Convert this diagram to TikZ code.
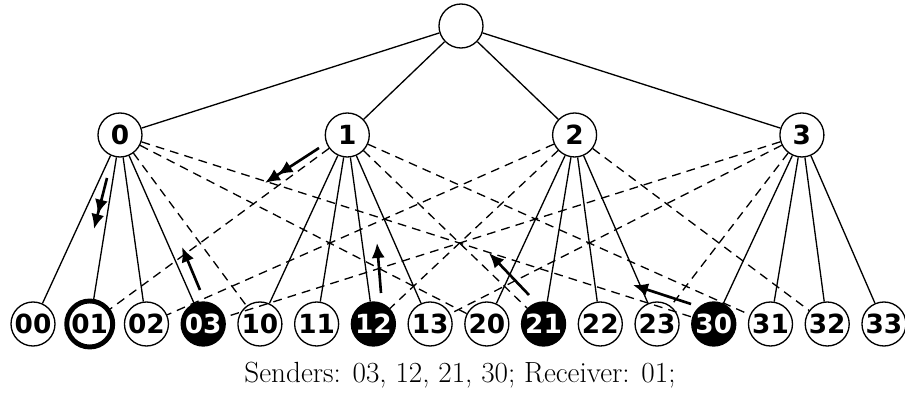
\documentclass[tikz,border=0pt]{standalone}
\usepackage{fontspec}
\newfontfamily\nodefont{DejaVu Sans}
\usetikzlibrary{arrows.meta}
\begin{document}
\begin{tikzpicture}[x=.2mm,y=-.2mm]
		  \tikzstyle{every node}=[font=\fontsize{15}{18}\nodefont\bfseries]
		  \tikzstyle{vertex}=[circle,draw,line width=.75pt,minimum size=.88cm,inner sep=0pt]
		  \tikzstyle{sender}=[vertex,fill=black,text=white]
		  \tikzstyle{receiver}=[vertex,line width=2.8pt,minimum size=.92cm]
		  \tikzstyle{link}=[line width=.75pt]
		  \tikzstyle{cross}=[link,dash pattern=on 5pt off 3.5pt]
		  \tikzstyle{route}=[line width=1.5pt,-{Latex[length=8.5pt,width=7.5pt]}]
		  \tikzstyle{route2}=[line width=1.5pt,-{Latex[length=8.5pt,width=7.5pt]Latex[length=8.5pt,width=7.5pt]}]
		  \useasboundingbox (0,0) rectangle (905,398);
		  % switches: root, one per group, sixteen end nodes
		  \node[vertex](r) at (461,26){};
		  \foreach \i in {0,...,3}
		    \node[vertex](n\i) at ({120+227.3*\i},135){\i};
		  \foreach \lbl/\s [count=\k from 0] in {00/vertex,01/receiver,02/vertex,03/sender,
		      10/vertex,11/vertex,12/sender,13/vertex,20/vertex,21/sender,22/vertex,23/vertex,
		      30/sender,31/vertex,32/vertex,33/vertex}
		    \node[\s](l\lbl) at ({33+56.73*\k},324){\lbl};
		  % tree links
		  \foreach \i in {0,...,3}{
		    \draw[link](r)--(n\i);
		    \foreach \j in {0,...,3}
		      \draw[link](n\i)--(l\i\j);
		  }
		  % cross links: switch i to end node ji
		  \foreach \i in {0,...,3}
		    \foreach \j in {0,...,3}{
		      \ifnum\i=\j\else \draw[cross](n\i)--(l\j\i); \fi
		    }
		  % message paths towards 01
		  \coordinate(p03a) at (200,290); \coordinate(p03b) at (182,247);
		  \coordinate(p12a) at (381,293); \coordinate(p12b) at (377,243);
		  \coordinate(p21a) at (529,295); \coordinate(p21b) at (489,253);
		  \coordinate(p30a) at (691,304); \coordinate(p30b) at (633,285);
		  \coordinate(q0a) at (107,178); \coordinate(q0b) at (94,229);
		  \coordinate(q1a) at (319,148); \coordinate(q1b) at (265,183);
		  \draw[route](p03a)--(p03b);
		  \draw[route](p12a)--(p12b);
		  \draw[route](p21a)--(p21b);
		  \draw[route](p30a)--(p30b);
		  \draw[route2](q0a)--(q0b);
		  \draw[route2](q1a)--(q1b);
		  \node[font=\fontsize{16.6}{20}\selectfont](caption) at (460,375){Senders: 03, 12, 21, 30; Receiver: 01;};
		\end{tikzpicture}
\end{document}
